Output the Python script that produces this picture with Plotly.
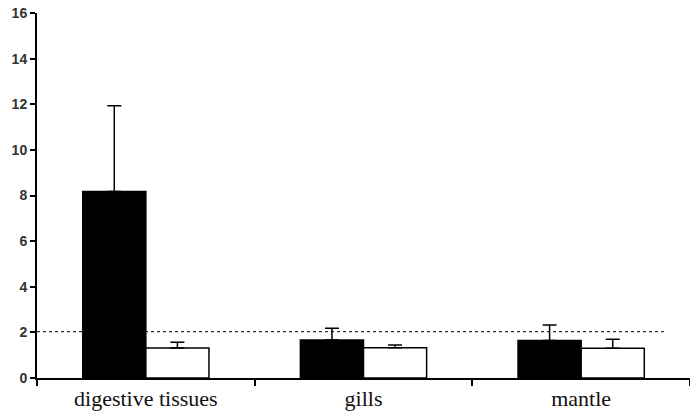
import plotly.graph_objects as go

categories = ["digestive tissues", "gills", "mantle"]
series_a = [8.17, 1.67, 1.64]
series_a_err = [3.76, 0.51, 0.68]
series_b = [1.32, 1.33, 1.30]
series_b_err = [0.25, 0.12, 0.40]
reference_level = 2.03
y_ticks = [0, 2, 4, 6, 8, 10, 12, 14, 16]

fig = go.Figure()
fig.add_trace(go.Bar(
    x=categories, y=series_a, marker=dict(color="black", line=dict(color="black", width=1.5)),
    error_y=dict(type="data", array=series_a_err, arrayminus=[0]*3, symmetric=False,
                 color="black", thickness=1.5, width=7),
    showlegend=False))
fig.add_trace(go.Bar(
    x=categories, y=series_b, marker=dict(color="white", line=dict(color="black", width=1.5)),
    error_y=dict(type="data", array=series_b_err, arrayminus=[0]*3, symmetric=False,
                 color="black", thickness=1.5, width=7),
    showlegend=False))

fig.add_shape(type="line", xref="x", yref="y", x0=-0.5, x1=2.38,
              y0=reference_level, y1=reference_level,
              line=dict(color="black", width=1, dash="dot"), layer="below")

fig.update_layout(
    width=690, height=417,
    margin=dict(l=37, r=0, t=13, b=39),
    paper_bgcolor="white", plot_bgcolor="white",
    barmode="group", bargap=0.42, bargroupgap=0,
)
fig.update_xaxes(
    type="category", range=[-0.5, 2.5], showline=True, linecolor="black", linewidth=2,
    ticks="outside", tickson="boundaries", ticklen=6, tickcolor="black", tickwidth=2,
    tickfont=dict(family="Liberation Serif", size=22, color="#111"),
    showgrid=False, zeroline=False,
)
fig.update_yaxes(
    range=[0, 16], tickvals=y_ticks, showline=True, linecolor="black", linewidth=2,
    ticks="outside", ticklen=5, tickcolor="black", tickwidth=2,
    tickfont=dict(family="Liberation Sans", size=14, color="#333", weight="bold"),
    showgrid=False, zeroline=False,
)

fig.write_html("out.html")
